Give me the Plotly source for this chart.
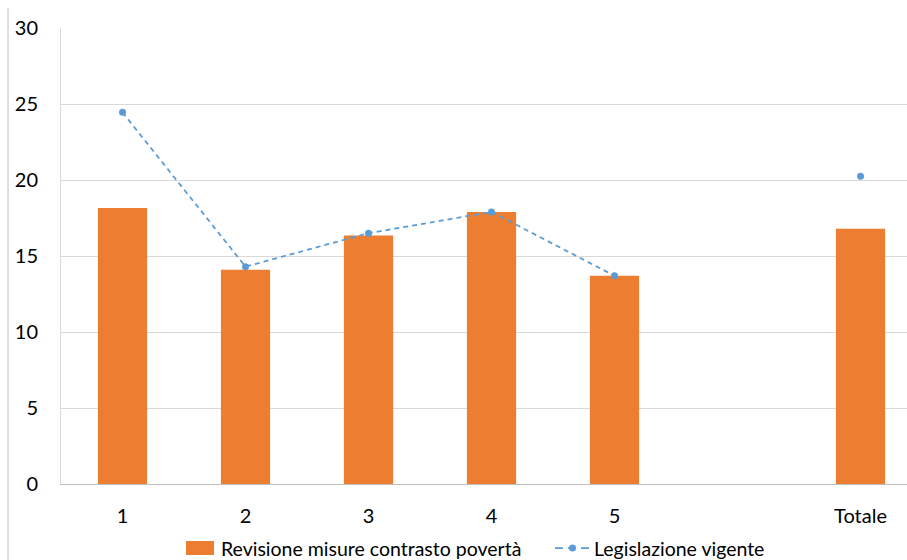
import plotly.graph_objects as go

# Categories (quintili + totale); slot 6 is left empty to separate the total
categories = ["1", "2", "3", "4", "5", "", "Totale"]
positions = [0, 1, 2, 3, 4, 5, 6]

# Revisione misure contrasto povertà (bars)
revisione = [18.15, 14.1, 16.35, 17.9, 13.7, None, 16.8]
# Legislazione vigente (dashed line with markers)
vigente = [24.45, 14.3, 16.5, 17.9, 13.7, None, 20.25]

series_names = ["Revisione misure contrasto povertà", "Legislazione vigente"]
y_ticks = [0, 5, 10, 15, 20, 25, 30]

ORANGE = "#ED7D31"
BLUE = "#5B9BD5"
FONT = "Lato"
DASH = "5px,4px"

# plot area in pixels (used to place the hand-drawn legend)
W, H = 907, 560
L, R, T, B = 61, 0, 28, 76
PW, PH = W - L - R, H - T - B


def px_x(px):
    return (px - L) / PW


def px_y(py):
    return (H - B - py) / PH


fig = go.Figure()

fig.add_trace(go.Bar(
    x=positions,
    y=revisione,
    width=0.4,
    marker=dict(color=ORANGE, line=dict(width=0)),
    name=series_names[0],
))

fig.add_trace(go.Scatter(
    x=positions,
    y=vigente,
    mode="lines+markers",
    connectgaps=False,
    line=dict(color=BLUE, width=1.75, dash=DASH),
    marker=dict(color=BLUE, size=7),
    name=series_names[1],
))

# Legend drawn below the plot: swatches as shapes, labels as annotations
leg_y = 548
shapes = [
    # thin frame line on the left edge
    dict(type="line", xref="paper", yref="paper",
         x0=px_x(8), x1=px_x(8), y0=px_y(8), y1=px_y(H),
         line=dict(color="#C0C0C0", width=1)),
    # bar swatch
    dict(type="rect", xref="paper", yref="paper",
         x0=px_x(186), x1=px_x(214), y0=px_y(leg_y + 7), y1=px_y(leg_y - 7),
         fillcolor=ORANGE, line=dict(width=0)),
    # dashed line swatch
    dict(type="line", xref="paper", yref="paper",
         x0=px_x(555), x1=px_x(590), y0=px_y(leg_y), y1=px_y(leg_y),
         line=dict(color=BLUE, width=1.75, dash="8px,5px")),
    # marker on the line swatch
    dict(type="circle", xref="paper", yref="paper",
         x0=px_x(569), x1=px_x(576), y0=px_y(leg_y + 3.5), y1=px_y(leg_y - 3.5),
         fillcolor=BLUE, line=dict(width=0)),
]

annotations = [
    dict(text=series_names[0], xref="paper", yref="paper",
         x=px_x(219), y=px_y(leg_y), xanchor="left", yanchor="middle",
         showarrow=False, font=dict(family=FONT, size=19.5, color="#000000")),
    dict(text=series_names[1], xref="paper", yref="paper",
         x=px_x(592), y=px_y(leg_y), xanchor="left", yanchor="middle",
         showarrow=False, font=dict(family=FONT, size=19.5, color="#000000")),
]

fig.update_layout(
    width=W,
    height=H,
    margin=dict(l=L, r=R, t=T, b=B, autoexpand=False),
    paper_bgcolor="white",
    plot_bgcolor="white",
    font=dict(family=FONT, size=20, color="#000000"),
    showlegend=False,
    bargap=0.6,
    shapes=shapes,
    annotations=annotations,
)

fig.update_xaxes(
    range=[-0.5, 6.378],
    tickmode="array",
    tickvals=positions,
    ticktext=categories,
    showgrid=False,
    showline=True,
    linecolor="#BFBFBF",
    linewidth=1,
    ticks="",
    ticklabelstandoff=14,
    zeroline=False,
    tickfont=dict(family=FONT, size=20, color="#000000"),
)

fig.update_yaxes(
    range=[0, 30],
    tickmode="array",
    tickvals=y_ticks,
    showgrid=True,
    gridcolor="#D9D9D9",
    gridwidth=1,
    showline=True,
    linecolor="#D9D9D9",
    linewidth=1,
    zeroline=False,
    ticks="",
    ticklabelstandoff=18,
    tickfont=dict(family=FONT, size=20, color="#000000"),
)

fig.write_html("out.html")
